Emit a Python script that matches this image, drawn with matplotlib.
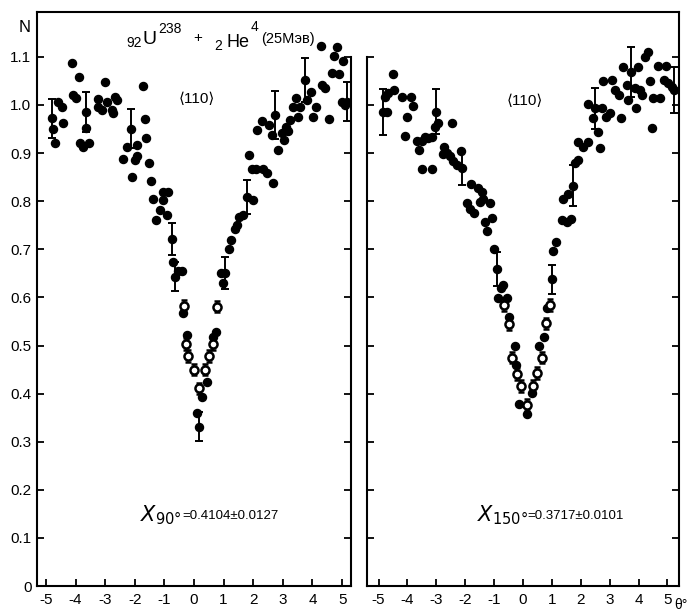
import matplotlib
matplotlib.use("Agg")
import matplotlib.pyplot as plt
from matplotlib.lines import Line2D

# ---------------- data ----------------
x_ticks = [-5, -4, -3, -2, -1, 0, 1, 2, 3, 4, 5]
y_ticks = [0, 0.1, 0.2, 0.3, 0.4, 0.5, 0.6, 0.7, 0.8, 0.9, 1.0, 1.1]
y_tick_labels = ["0", "0.1", "0.2", "0.3", "0.4", "0.5", "0.6", "0.7", "0.8", "0.9", "1.0", "1.1"]

left_filled = [
    (-4.75, 0.951), (-4.70, 0.922), (-4.58, 1.007), (-4.47, 0.996), (-4.41, 0.963),
    (-4.13, 1.088), (-4.08, 1.021), (-3.99, 1.014), (-3.89, 1.059), (-3.85, 0.922),
    (-3.76, 0.913), (-3.63, 0.953), (-3.54, 0.922), (-3.23, 0.996), (-3.23, 1.012),
    (-3.12, 0.990), (-3.01, 1.048), (-2.95, 1.007), (-2.78, 0.990), (-2.74, 0.983),
    (-2.67, 1.017), (-2.61, 1.010), (-2.39, 0.887), (-2.27, 0.913), (-2.10, 0.851),
    (-1.99, 0.886), (-1.94, 0.894), (-1.92, 0.917), (-1.71, 1.040), (-1.66, 0.970),
    (-1.62, 0.931), (-1.51, 0.880), (-1.46, 0.841), (-1.40, 0.804), (-1.28, 0.761),
    (-1.15, 0.782), (-1.06, 0.802), (-1.04, 0.820), (-0.92, 0.771), (-0.87, 0.820),
    (-0.70, 0.674), (-0.53, 0.654), (-0.42, 0.654), (-0.36, 0.568), (-0.25, 0.522),
    (0.26, 0.392), (0.09, 0.360), (0.45, 0.425), (0.63, 0.517), (0.74, 0.529),
    (0.90, 0.650), (0.99, 0.629), (1.19, 0.700), (1.25, 0.719), (1.39, 0.742),
    (1.46, 0.751), (1.53, 0.768), (1.67, 0.771), (2.00, 0.802), (1.87, 0.896),
    (1.95, 0.866), (2.09, 0.866), (2.34, 0.866), (2.46, 0.858), (2.66, 0.838),
    (2.12, 0.948), (2.29, 0.967), (2.54, 0.958), (2.63, 0.938), (2.85, 0.906),
    (2.96, 0.941), (3.04, 0.927), (3.11, 0.955), (3.19, 0.945), (3.24, 0.969),
    (3.33, 0.996), (3.45, 1.014), (3.50, 0.976), (3.58, 0.996), (3.81, 1.010),
    (3.94, 1.026), (4.01, 0.976), (4.12, 0.996), (4.31, 1.042), (4.43, 1.035),
    (4.28, 1.123), (4.57, 0.970), (4.71, 1.102), (4.82, 1.121), (4.65, 1.066),
    (4.88, 1.064), (5.04, 1.092), (4.99, 1.007), (5.10, 1.000),
]
left_open = [
    (-0.34, 0.582), (-0.27, 0.503), (-0.19, 0.478), (0.00, 0.450), (0.18, 0.411),
    (0.37, 0.450), (0.52, 0.478), (0.65, 0.503), (0.79, 0.581),
]
left_errbars = [  # x, y, half-error
    (-4.81, 0.972, 0.040), (-3.65, 0.986, 0.042), (-2.13, 0.951, 0.040),
    (-0.75, 0.721, 0.033), (-0.64, 0.643, 0.030), (0.18, 0.331, 0.030),
    (1.06, 0.650, 0.033), (1.78, 0.809, 0.035), (2.74, 0.979, 0.050),
    (3.75, 1.052, 0.045), (5.16, 1.007, 0.040),
]

right_filled = [
    (-4.72, 0.986), (-4.78, 1.017), (-4.66, 1.024), (-4.49, 1.064), (-4.45, 1.032),
    (-4.18, 1.016), (-4.03, 0.976), (-4.08, 0.936), (-3.88, 1.016), (-3.80, 0.998),
    (-3.68, 0.926), (-3.60, 0.906), (-3.51, 0.926), (-3.48, 0.866), (-3.16, 0.866),
    (-3.39, 0.933), (-3.28, 0.931), (-3.14, 0.933), (-3.04, 0.955), (-2.93, 0.963),
    (-2.47, 0.963), (-2.72, 0.913), (-2.76, 0.899), (-2.64, 0.901), (-2.53, 0.893),
    (-2.41, 0.884), (-2.29, 0.875), (-2.15, 0.905), (-1.80, 0.836), (-1.55, 0.827),
    (-1.95, 0.796), (-1.83, 0.783), (-1.68, 0.776), (-1.49, 0.799), (-1.37, 0.804),
    (-1.14, 0.797), (-1.31, 0.757), (-1.08, 0.766), (-1.24, 0.739), (-1.43, 0.820),
    (-0.99, 0.700), (-0.76, 0.620), (-0.68, 0.626), (-0.88, 0.598), (-0.56, 0.598),
    (-0.47, 0.559), (-0.28, 0.499), (-0.25, 0.459), (-0.13, 0.378), (0.13, 0.358),
    (0.30, 0.401), (0.54, 0.498), (0.73, 0.517), (0.82, 0.577), (1.05, 0.697),
    (1.14, 0.716), (1.34, 0.761), (1.51, 0.757), (1.66, 0.764), (1.39, 0.804),
    (1.57, 0.816), (1.89, 0.886), (1.80, 0.880), (1.89, 0.924), (2.09, 0.913),
    (2.24, 0.924), (2.66, 0.910), (2.26, 1.003), (2.72, 0.993), (2.43, 0.972),
    (2.58, 0.943), (2.86, 0.976), (3.01, 0.983), (3.39, 0.972), (2.78, 1.049),
    (3.07, 1.052), (3.18, 1.032), (3.32, 1.021), (3.47, 1.080), (3.59, 1.042),
    (3.62, 1.010), (3.88, 1.035), (3.90, 0.993), (3.97, 1.080), (4.05, 1.031),
    (4.11, 1.021), (4.22, 1.100), (4.31, 1.111), (4.39, 1.050), (4.45, 0.953),
    (4.51, 1.014), (4.74, 1.014), (4.66, 1.081), (4.94, 1.081), (4.89, 1.052),
    (5.03, 1.046), (5.15, 1.037),
]
right_open = [
    (-0.66, 0.584), (-0.47, 0.544), (-0.37, 0.475), (-0.22, 0.441), (-0.07, 0.416),
    (0.15, 0.376), (0.34, 0.416), (0.47, 0.443), (0.65, 0.475), (0.80, 0.546),
    (0.93, 0.584),
]
right_errbars = [
    (-4.83, 0.986, 0.048), (-3.02, 0.986, 0.047), (-2.12, 0.868, 0.035),
    (-0.91, 0.659, 0.035), (0.99, 0.638, 0.030), (1.74, 0.832, 0.043),
    (2.49, 0.993, 0.042), (3.74, 1.069, 0.052), (5.24, 1.031, 0.048),
]
open_err = 0.012

orientation = "⟨110⟩"
chi_left_sub = r"$X_{90°}$"
chi_left_val = "=0.4104±0.0127"
chi_right_sub = r"$X_{150°}$"
chi_right_val = "=0.3717±0.0101"

# ---------------- style ----------------
fam = ["Liberation Sans", "DejaVu Sans"]
plt.rcParams["font.family"] = fam
plt.rcParams["mathtext.fontset"] = "dejavusans"

W, H = 691, 612
fig = plt.figure(figsize=(W / 100, H / 100), dpi=100)


def frame(x0, y0, x1, y1):
    return [x0 / W, 1 - y1 / H, (x1 - x0) / W, (y1 - y0) / H]


def fx(x):
    return x / W


def fy(y):
    return 1 - y / H


Y_TOP = (586 - 12) / 481.0
axL = fig.add_axes(frame(37, 12, 351, 586))
axR = fig.add_axes(frame(367, 12, 679, 586))

LW = 1.5
for ax, xl in ((axL, (-5.3, 5.3)), (axR, (-5.4, 5.4))):
    ax.set_xlim(*xl)
    ax.set_ylim(0, Y_TOP)
    ax.spines["top"].set_visible(False)
    for s in ax.spines.values():
        s.set_linewidth(LW)
    ax.set_xticks(x_ticks)
    ax.set_xticklabels([str(v) for v in x_ticks])
    ax.set_yticks(y_ticks)
    ax.tick_params(axis="x", direction="in", length=5, width=1.3, labelsize=11, pad=5)
    ax.tick_params(axis="y", direction="in", length=5, width=1.3, labelsize=11,
                   left=True, right=True, pad=4)

axL.set_yticklabels(y_tick_labels)
axL.spines["right"].set_bounds(0, 1.1)
axR.spines["left"].set_bounds(0, 1.1)
axR.tick_params(axis="y", labelleft=False)

# top line spanning both panels
fig.add_artist(Line2D([fx(37), fx(679)], [fy(12), fy(12)], transform=fig.transFigure,
                      color="black", lw=LW))


def draw(ax, filled, opn, bars):
    fxs, fys = zip(*filled)
    ax.plot(fxs, fys, "o", color="black", ms=5.8, zorder=3)
    bx, by, be = zip(*bars)
    ax.errorbar(bx, by, yerr=be, fmt="o", color="black", ms=5.8, capsize=2.6,
                elinewidth=1.4, capthick=1.4, zorder=3)
    ox, oy = zip(*opn)
    ax.errorbar(ox, oy, yerr=open_err, fmt="o", mfc="white", mec="black", mew=1.8,
                ms=5.8, ecolor="black", capsize=2.2, elinewidth=1.2, capthick=1.4,
                zorder=4)


draw(axL, left_filled, left_open, left_errbars)
draw(axR, right_filled, right_open, right_errbars)

# ---------------- texts ----------------
fig.text(fx(25), fy(27), "N", fontsize=12, ha="center", va="center")
# title  92U238 + 2He4 (25 MeV)
fig.text(fx(126), fy(47), "92", fontsize=10, ha="left", va="baseline")
fig.text(fx(143), fy(44), "U", fontsize=14, ha="left", va="baseline")
fig.text(fx(158), fy(33), "238", fontsize=10, ha="left", va="baseline")
fig.text(fx(198), fy(38), "+", fontsize=11, ha="center", va="center")
fig.text(fx(214), fy(50), "2", fontsize=10, ha="left", va="baseline")
fig.text(fx(227), fy(47), "He", fontsize=13, ha="left", va="baseline")
fig.text(fx(251), fy(31), "4", fontsize=10, ha="left", va="baseline")
fig.text(fx(261), fy(43), "(25Мэв)", fontsize=10.5, ha="left", va="baseline")

fig.text(fx(197), fy(99), orientation, fontsize=11, ha="center", va="center")
fig.text(fx(525), fy(101), orientation, fontsize=11, ha="center", va="center")
fig.text(fx(140), fy(521), chi_left_sub, fontsize=15, ha="left", va="baseline")
fig.text(fx(182), fy(519), chi_left_val, fontsize=9.5, ha="left", va="baseline")
fig.text(fx(477), fy(521), chi_right_sub, fontsize=15, ha="left", va="baseline")
fig.text(fx(527), fy(519), chi_right_val, fontsize=9.5, ha="left", va="baseline")
fig.text(fx(681), fy(605), "θ°", fontsize=10, ha="center", va="center")

fig.savefig("out.png", dpi=100)
